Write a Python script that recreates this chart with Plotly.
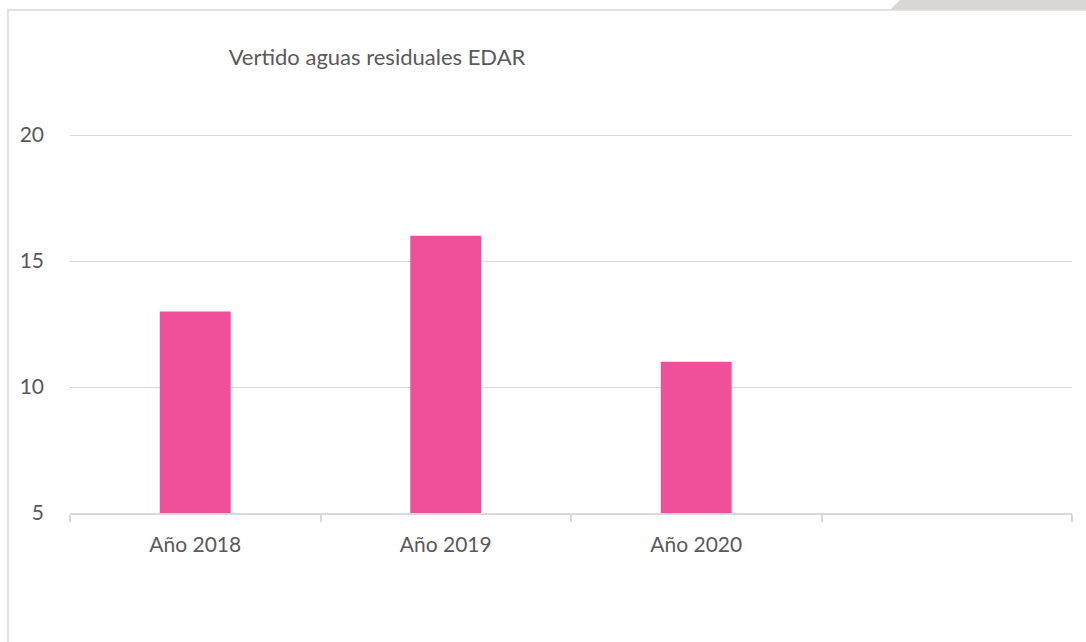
import plotly.graph_objects as go

# Data
categories = ["Año 2018", "Año 2019", "Año 2020", " "]
values = [13, 16, 11, None]
y_ticks = [5, 10, 15, 20]

W, H = 1086, 642
L, R, T, B = 70, 1072, 130, 513


def px(x):
    return (x - L) / (R - L)


def py(y):
    return (B - y) / (B - T)


fig = go.Figure(
    go.Bar(
        x=categories,
        y=values,
        marker=dict(color="#F0509A", line=dict(width=0)),
        width=0.283,
    )
)

font = "Lato, 'Open Sans', sans-serif"

fig.update_layout(
    width=W,
    height=H,
    plot_bgcolor="white",
    paper_bgcolor="white",
    margin=dict(l=L, r=W - R, t=T, b=H - B),
    showlegend=False,
    font=dict(family=font, size=21, color="#595959"),
    title=dict(
        text="Vertido aguas residuales EDAR",
        x=377 / W,
        xanchor="center",
        y=1 - 57 / H,
        yanchor="middle",
        font=dict(size=22, color="#595959", family=font),
    ),
    xaxis=dict(
        type="category",
        showgrid=False,
        showline=True,
        linecolor="#D9D9D9",
        linewidth=1.5,
        ticks="outside",
        tickson="boundaries",
        ticklen=7,
        tickcolor="#D9D9D9",
        tickwidth=1.5,
        ticklabelstandoff=12,
        tickfont=dict(size=21, color="#595959"),
    ),
    yaxis=dict(
        range=[5, 20.2],
        tickvals=y_ticks,
        showgrid=True,
        gridcolor="#D9D9D9",
        gridwidth=1,
        zeroline=False,
        showline=False,
        ticks="",
        ticklabelstandoff=25,
        tickfont=dict(size=21, color="#595959"),
    ),
    shapes=[
        # chart border (left and top)
        dict(
            type="path",
            xref="paper",
            yref="paper",
            path=f"M {px(8)} {py(H + 5)} L {px(8)} {py(10)} L {px(W + 5)} {py(10)}",
            line=dict(color="#D9D9D9", width=1.5),
            layer="above",
        ),
        # gray shape top right
        dict(
            type="path",
            xref="paper",
            yref="paper",
            path=f"M {px(890)} {py(10)} L {px(900)} {py(0)} L {px(W)} {py(0)} L {px(W)} {py(10)} Z",
            fillcolor="#DAD6D4",
            line=dict(width=0),
            layer="above",
        ),
    ],
)

fig.write_html(
    "out.html",
    config={"displayModeBar": False},
    post_script="document.body.style.margin='0';",
)
